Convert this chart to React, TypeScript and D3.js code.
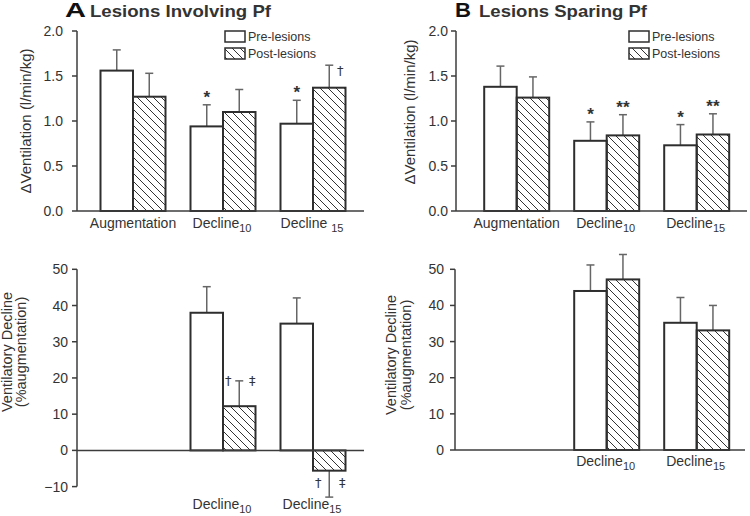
import React from "react";
import * as d3 from "d3";

// ---------- data ----------
const categories = ["Augmentation", "Decline10", "Decline15"];
const seriesNames = ["Pre-lesions", "Post-lesions"];

// Panel A top: ΔVentilation (l/min/kg)
const topAPre = [1.56, 0.94, 0.97];
const topAPreErr = [0.23, 0.24, 0.26];
const topAPost = [1.27, 1.10, 1.37];
const topAPostErr = [0.26, 0.25, 0.25];
const topAPreMarks = ["", "*", "*"];
const topAPostMarks = ["", "", "†"];

// Panel B top
const topBPre = [1.38, 0.78, 0.73];
const topBPreErr = [0.23, 0.21, 0.23];
const topBPost = [1.26, 0.84, 0.85];
const topBPostErr = [0.23, 0.23, 0.23];
const topBPreMarks = ["", "*", "*"];
const topBPostMarks = ["", "**", "**"];

// Bottom panels: Ventilatory decline (% augmentation)
const bottomCategories = ["Decline10", "Decline15"];
const botAPre = [38.0, 35.0];
const botAPreErr = [7.2, 7.1];
const botAPost = [12.2, -5.6];
const botAPostErr = [7.0, 7.3];
const botAPostMarks = [["†", "‡"], ["†", "‡"]];
const botBPre = [44.0, 35.2];
const botBPreErr = [7.2, 7.0];
const botBPost = [47.2, 33.1];
const botBPostErr = [6.9, 6.9];

const topTicks = [0, 0.5, 1.0, 1.5, 2.0];
const botATicks = [-10, 0, 10, 20, 30, 40, 50];
const botBTicks = [0, 10, 20, 30, 40, 50];

// ---------- styles ----------
const FONT = "'Liberation Sans', Arial, Helvetica, sans-serif";
const SYM = "'DejaVu Sans', 'Liberation Sans', sans-serif";
const TEXT = "#333";
const AXIS = "#3c3c3c";
const BAR = "#2e2e2e";
const ERR = "#666";

type Bar = { cat: string; series: number; v: number; e: number };

function label(cat: string, key: string, x: number, y: number, spaced = false) {
  if (cat === "Augmentation")
    return (
      <text key={key} x={x} y={y} textAnchor="middle" fontSize={14} fill={TEXT}>
        Augmentation
      </text>
    );
  const sub = cat.replace("Decline", "");
  return (
    <text key={key} x={x} y={y} textAnchor="middle" fontSize={14} fill={TEXT}>
      <tspan>{spaced ? "Decline " : "Decline"}</tspan>
      <tspan fontSize={11} dy={4}>{sub}</tspan>
    </text>
  );
}

function Panel(props: {
  id: string;
  axisX: number;
  axisEnd: number;
  centerStart: number;
  domain: [number, number];
  yRange: [number, number];
  ticks: number[];
  fmt: (v: number) => string;
  tickLabelX: number;
  cats: string[];
  pre: number[];
  preErr: number[];
  post: number[];
  postErr: number[];
  preMarks?: string[];
  postMarks?: string[];
  sideMarks?: string[][];
  labelY: number;
  spaced15?: boolean;
}) {
  const x = d3
    .scalePoint<string>()
    .domain(categories)
    .range([props.centerStart - 45, props.centerStart + 225])
    .padding(0.5);
  const y = d3.scaleLinear().domain(props.domain).range(props.yRange);
  const bw = 32.5;
  const bars: Bar[] = [];
  props.cats.forEach((c, i) => {
    bars.push({ cat: c, series: 0, v: props.pre[i], e: props.preErr[i] });
    bars.push({ cat: c, series: 1, v: props.post[i], e: props.postErr[i] });
  });
  const y0 = y(0);
  return (
    <g>
      {bars.map((b, i) => {
        const cx = (x(b.cat) as number) + (b.series === 0 ? -bw / 2 : bw / 2);
        const yt = y(Math.max(0, b.v));
        const yb = y(Math.min(0, b.v));
        const sign = b.v >= 0 ? 1 : -1;
        const ye = y(b.v + sign * b.e);
        const ystart = b.v >= 0 ? yt : yb;
        return (
          <g key={props.id + "b" + i}>
            <line x1={cx} x2={cx} y1={ystart} y2={ye} stroke={ERR} strokeWidth={1.5} />
            <line x1={cx - 4} x2={cx + 4} y1={ye} y2={ye} stroke={ERR} strokeWidth={1.5} />
            <rect
              x={cx - bw / 2}
              y={yt}
              width={bw}
              height={yb - yt}
              fill={b.series === 0 ? "#fff" : "url(#hatch)"}
              stroke={BAR}
              strokeWidth={2}
            />
          </g>
        );
      })}
      {props.cats.map((c, i) => {
        const out: any[] = [];
        const pm = props.preMarks ? props.preMarks[i] : "";
        const qm = props.postMarks ? props.postMarks[i] : "";
        const cpre = (x(c) as number) - bw / 2;
        const cpost = (x(c) as number) + bw / 2;
        if (pm)
          out.push(
            <text key={props.id + "pm" + i} x={cpre} y={y(props.pre[i] + props.preErr[i]) - 2} textAnchor="middle" fontSize={17} fontWeight="bold" fill={TEXT}>
              {pm}
            </text>
          );
        if (qm === "†")
          out.push(
            <text key={props.id + "qm" + i} x={cpost + 11} y={y(props.post[i] + props.postErr[i]) + 10} textAnchor="middle" fontSize={13} fill={TEXT} fontFamily={SYM}>
              {qm}
            </text>
          );
        else if (qm)
          out.push(
            <text key={props.id + "qm" + i} x={cpost} y={y(props.post[i] + props.postErr[i]) - 2} textAnchor="middle" fontSize={17} fontWeight="bold" fill={TEXT}>
              {qm}
            </text>
          );
        if (props.sideMarks) {
          const sm = props.sideMarks[i];
          const v = props.post[i];
          const yy = v >= 0 ? y(v + props.postErr[i]) + 4 : y(v) + 16;
          out.push(
            <text key={props.id + "sl" + i} x={cpost - 11} y={yy} textAnchor="middle" fontSize={13} fill={TEXT} fontFamily={SYM}>{sm[0]}</text>
          );
          out.push(
            <text key={props.id + "sr" + i} x={cpost + 13} y={yy} textAnchor="middle" fontSize={13} fill={TEXT} fontFamily={SYM}>{sm[1]}</text>
          );
        }
        return out;
      })}
      <line x1={props.axisX} x2={props.axisX} y1={y(props.domain[1])} y2={y(props.domain[0])} stroke={AXIS} strokeWidth={1.5} />
      <line x1={props.axisX} x2={props.axisEnd} y1={y0} y2={y0} stroke={AXIS} strokeWidth={1.5} />
      {props.ticks.map((t) => (
        <g key={props.id + "t" + t}>
          <line x1={props.axisX - 5} x2={props.axisX} y1={y(t)} y2={y(t)} stroke={AXIS} strokeWidth={1.5} />
          <text x={props.tickLabelX} y={y(t) + 5} textAnchor="end" fontSize={14} fill={TEXT}>
            {props.fmt(t)}
          </text>
        </g>
      ))}
      {props.cats.map((c) =>
        label(c, props.id + "l" + c, (x(c) as number) - (c === "Augmentation" ? 0 : 1), props.labelY, props.spaced15 && c === "Decline15")
      )}
    </g>
  );
}

function Legend({ x, y }: { x: number; y: number }) {
  return (
    <g>
      {seriesNames.map((s, i) => (
        <g key={s}>
          <rect x={x} y={y + i * 17} width={20} height={11} fill={i === 0 ? "#fff" : "url(#hatch)"} stroke={BAR} strokeWidth={1.5} />
          <text x={x + 23} y={y + i * 17 + 10} fontSize={12.5} fill={TEXT}>
            {s}
          </text>
        </g>
      ))}
    </g>
  );
}

export default function App() {
  const f1 = d3.format(".1f");
  const f0 = d3.format("d");
  return (
    <svg width={750} height={516} style={{ position: "absolute", left: 0, top: 0, fontFamily: FONT }}>
      <defs>
        <pattern id="hatch" patternUnits="userSpaceOnUse" width={8} height={8}>
          <path d="M-2,-2 L10,10 M-2,6 L2,10 M6,-2 L10,2" stroke="#333" strokeWidth={1} />
        </pattern>
      </defs>
      <rect x={0} y={0} width={750} height={516} fill="#fff" />

      <text x={65} y={17} fontSize={20} fontWeight="900" fill="#111" textLength={21} lengthAdjust="spacingAndGlyphs">A</text>
      <text x={90} y={17} fontSize={17} fontWeight="bold" fill="#333" textLength={181} lengthAdjust="spacingAndGlyphs">Lesions Involving Pf</text>
      <text x={455} y={17} fontSize={20} fontWeight="900" fill="#111" textLength={16} lengthAdjust="spacingAndGlyphs">B</text>
      <text x={479} y={17} fontSize={17} fontWeight="bold" fill="#333" textLength={168} lengthAdjust="spacingAndGlyphs">Lesions Sparing Pf</text>

      <text transform="translate(31,121) rotate(-90)" textAnchor="middle" fontSize={15} fill={TEXT}>ΔVentilation (l/min/kg)</text>
      <text transform="translate(415,112) rotate(-90)" textAnchor="middle" fontSize={15} fill={TEXT}>ΔVentilation (l/min/kg)</text>
      <text transform="translate(12,352) rotate(-90)" textAnchor="middle" fontSize={14.5} fill={TEXT}>Ventilatory Decline</text>
      <text transform="translate(26,352) rotate(-90)" textAnchor="middle" fontSize={14.5} fill={TEXT}>(%augmentation)</text>
      <text transform="translate(396,355) rotate(-90)" textAnchor="middle" fontSize={14.5} fill={TEXT}>Ventilatory Decline</text>
      <text transform="translate(411,355) rotate(-90)" textAnchor="middle" fontSize={14.5} fill={TEXT}>(%augmentation)</text>

      <Panel
        id="ta" axisX={77} axisEnd={364} centerStart={133} domain={[0, 2]} yRange={[211, 31]}
        ticks={topTicks} fmt={f1} tickLabelX={63} cats={categories}
        pre={topAPre} preErr={topAPreErr} post={topAPost} postErr={topAPostErr}
        preMarks={topAPreMarks} postMarks={topAPostMarks} labelY={228} spaced15
      />
      <Panel
        id="tb" axisX={456} axisEnd={747} centerStart={516.7} domain={[0, 2]} yRange={[211, 31]}
        ticks={topTicks} fmt={f1} tickLabelX={448} cats={categories}
        pre={topBPre} preErr={topBPreErr} post={topBPost} postErr={topBPostErr}
        preMarks={topBPreMarks} postMarks={topBPostMarks} labelY={228}
      />
      <Panel
        id="ba" axisX={77} axisEnd={364} centerStart={133} domain={[-10, 50]} yRange={[486.6, 269.3]}
        ticks={botATicks} fmt={f0} tickLabelX={68} cats={bottomCategories}
        pre={botAPre} preErr={botAPreErr} post={botAPost} postErr={botAPostErr}
        sideMarks={botAPostMarks} labelY={509}
      />
      <Panel
        id="bb" axisX={455} axisEnd={745} centerStart={516.7} domain={[0, 50]} yRange={[450, 269.3]}
        ticks={botBTicks} fmt={f0} tickLabelX={444} cats={bottomCategories}
        pre={botBPre} preErr={botBPreErr} post={botBPost} postErr={botBPostErr} labelY={466}
      />

      <Legend x={225} y={31} />
      <Legend x={629} y={31} />
    </svg>
  );
}
